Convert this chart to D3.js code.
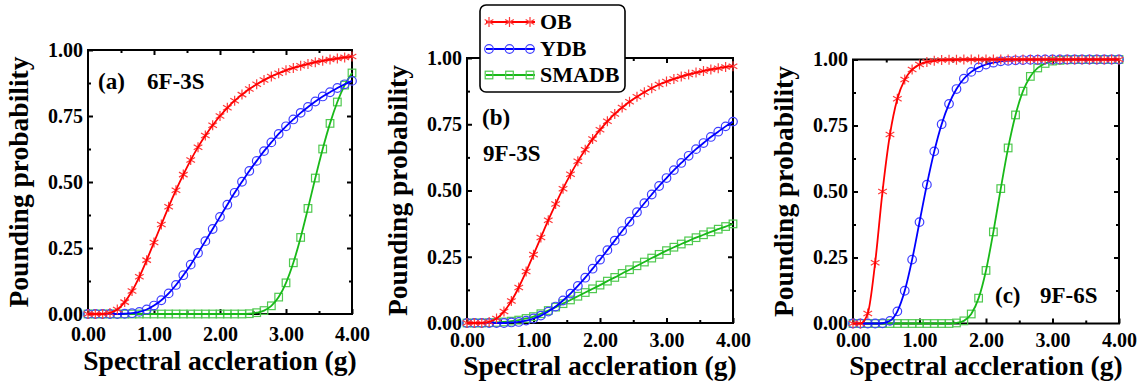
<!DOCTYPE html>
<html><head><meta charset="utf-8">
<script src="https://cdn.jsdelivr.net/npm/d3@7"></script>
<style>
body{margin:0;background:#fff}
svg{display:block}
text{font-family:"Liberation Serif","Times New Roman",serif;font-weight:bold;fill:#000}
</style></head><body>
<svg id="chart" width="1143" height="387"></svg>
<script>
// ---------- data ----------
const accel = [0,0.111,0.222,0.333,0.444,0.556,0.667,0.778,0.889,1.0,1.111,1.222,1.333,1.444,1.556,1.667,1.778,1.889,2.0,2.111,2.222,2.333,2.444,2.556,2.667,2.778,2.889,3.0,3.111,3.222,3.333,3.444,3.556,3.667,3.778,3.889,4.0];
const seriesNames = ["OB","YDB","SMADB"];
const panelTags = ["(a)","(b)","(c)"];
const panelCases = ["6F-3S","9F-3S","9F-6S"];
const xTickValues = [0,1,2,3,4];
const xTickLabels = ["0.00","1.00","2.00","3.00","4.00"];
const yTickValues = [0,0.25,0.5,0.75,1];
const yTickLabels = ["0.00","0.25","0.50","0.75","1.00"];
const xMinor = [0.5,1.5,2.5,3.5];
const yMinor = [0.125,0.375,0.625,0.875];
const xTitle = "Spectral accleration (g)";
const yTitle = "Pounding probability";

// (a) 6F-3S
const obA    = [0,0,0,0.004,0.017,0.045,0.087,0.141,0.204,0.271,0.339,0.406,0.469,0.528,0.583,0.632,0.676,0.715,0.750,0.781,0.808,0.831,0.852,0.870,0.886,0.900,0.912,0.923,0.932,0.940,0.947,0.954,0.959,0.964,0.968,0.972,0.975];
const ydbA   = [0,0,0,0,0,0.001,0.003,0.008,0.017,0.032,0.052,0.078,0.110,0.147,0.187,0.231,0.276,0.322,0.368,0.414,0.459,0.501,0.542,0.580,0.617,0.650,0.682,0.711,0.737,0.762,0.784,0.805,0.824,0.840,0.856,0.870,0.883];
const smadbA = [0,0,0,0,0,0,0,0,0,0,0,0,0,0,0,0,0,0,0,0,0,0,0.001,0.005,0.013,0.031,0.064,0.118,0.194,0.290,0.400,0.515,0.625,0.722,0.803,0.867,0.913];
// (b) 9F-3S
const obB    = [0,0,0,0.004,0.017,0.043,0.083,0.134,0.194,0.258,0.323,0.388,0.449,0.507,0.561,0.610,0.654,0.694,0.729,0.761,0.789,0.813,0.835,0.854,0.871,0.886,0.900,0.911,0.921,0.930,0.938,0.945,0.951,0.957,0.961,0.966,0.969];
const ydbB   = [0,0,0,0,0,0,0.002,0.004,0.009,0.017,0.028,0.043,0.062,0.085,0.111,0.140,0.171,0.205,0.239,0.275,0.311,0.347,0.382,0.418,0.452,0.485,0.517,0.547,0.577,0.604,0.631,0.656,0.679,0.702,0.722,0.742,0.760];
const smadbB = [0,0,0,0.001,0.002,0.004,0.007,0.011,0.017,0.024,0.035,0.047,0.060,0.073,0.087,0.101,0.115,0.129,0.143,0.158,0.172,0.187,0.201,0.216,0.230,0.245,0.259,0.273,0.286,0.298,0.310,0.322,0.333,0.344,0.354,0.364,0.374];
// (c) 9F-6S
const obC    = [0,0,0.038,0.230,0.500,0.716,0.851,0.924,0.962,0.981,0.991,0.995,0.998,0.999,0.999,1,1,1,1,1,1,1,1,1,1,1,1,1,1,1,1,1,1,1,1,1,1];
const ydbC   = [0,0,0,0,0.001,0.010,0.046,0.124,0.242,0.384,0.526,0.652,0.755,0.832,0.888,0.927,0.953,0.970,0.981,0.988,0.993,0.995,0.997,0.998,0.999,0.999,1,1,1,1,1,1,1,1,1,1,1];
const smadbC = [0,0,0,0,0,0,0,0,0,0,0,0,0,0,0.002,0.010,0.036,0.096,0.201,0.347,0.511,0.665,0.790,0.880,0.936,0.968,0.985,0.994,0.997,0.999,1,1,1,1,1,1,1];

// ---------- layout / style ----------
const panels = [
  {l:88, r:352, t:50, b:314, xPad:13, titleY:370, series:[obA,ydbA,smadbA], tag:{x:98,y:89}, cas:{x:147,y:89}},
  {l:467,r:733, t:58, b:323, xPad:10, titleY:375, series:[obB,ydbB,smadbB], tag:{x:482,y:125}, cas:{x:483,y:161}},
  {l:853,r:1119,t:59.5,b:323.5, xPad:9.5, titleY:375, series:[obC,ydbC,smadbC], tag:{x:995,y:303}, cas:{x:1040,y:303}}
];
const lineCol = ["#ff0000","#0000ff","#19b919"];
const markCol = ["#ff3a3a","#4040ff","#4fc94f"];

const svg = d3.select("#chart");
svg.append("rect").attr("width",1143).attr("height",387).attr("fill","#fff");

function drawMarker(g, kind, cx, cy){
  if(kind===0){
    const s=5, c=Math.cos(Math.PI/6)*s, sn=Math.sin(Math.PI/6)*s;
    g.append("path")
      .attr("d",`M${cx},${cy-s}L${cx},${cy+s}M${cx-c},${cy-sn}L${cx+c},${cy+sn}M${cx-c},${cy+sn}L${cx+c},${cy-sn}`)
      .attr("stroke",markCol[0]).attr("stroke-width",1.2).attr("fill","none");
  } else if(kind===1){
    g.append("circle").attr("cx",cx).attr("cy",cy).attr("r",4.3)
      .attr("stroke",markCol[1]).attr("stroke-width",1.2).attr("fill","none");
  } else {
    g.append("rect").attr("x",cx-3.8).attr("y",cy-3.8).attr("width",7.6).attr("height",7.6)
      .attr("stroke",markCol[2]).attr("stroke-width",1.2).attr("fill","none");
  }
}

panels.forEach((p,pi)=>{
  const g = svg.append("g");
  const x = d3.scaleLinear().domain([0,4]).range([p.l,p.r]);
  const y = d3.scaleLinear().domain([0,1]).range([p.b,p.t]);

  // frame
  g.append("rect").attr("x",p.l).attr("y",p.t).attr("width",p.r-p.l).attr("height",p.b-p.t)
    .attr("fill","none").attr("stroke","#000").attr("stroke-width",2);

  const styleAxis = (sel)=>{
    sel.select(".domain").remove();
    sel.selectAll(".tick line").attr("stroke","#000").attr("stroke-width",2);
    sel.selectAll(".tick text").style("font-size","20px").attr("fill","#000");
  };
  // major axes with labels
  g.append("g").attr("transform",`translate(0,${p.b})`)
    .call(d3.axisBottom(x).tickValues(xTickValues).tickSize(-5).tickPadding(p.xPad)
      .tickFormat((d,i)=>xTickLabels[i])).call(styleAxis);
  g.append("g").attr("transform",`translate(${p.l},0)`)
    .call(d3.axisLeft(y).tickValues(yTickValues).tickSize(-5).tickPadding(5)
      .tickFormat((d,i)=>yTickLabels[i])).call(styleAxis);
  // opposite axes (ticks only)
  g.append("g").attr("transform",`translate(0,${p.t})`)
    .call(d3.axisTop(x).tickValues(xTickValues.slice(1,-1)).tickSize(-5).tickFormat("")).call(styleAxis);
  g.append("g").attr("transform",`translate(${p.r},0)`)
    .call(d3.axisRight(y).tickValues(yTickValues.slice(1,-1)).tickSize(-5).tickFormat("")).call(styleAxis);
  // minor ticks
  g.append("g").attr("transform",`translate(0,${p.b})`).call(d3.axisBottom(x).tickValues(xMinor).tickSize(-3).tickFormat("")).call(styleAxis);
  g.append("g").attr("transform",`translate(0,${p.t})`).call(d3.axisTop(x).tickValues(xMinor).tickSize(-3).tickFormat("")).call(styleAxis);
  g.append("g").attr("transform",`translate(${p.l},0)`).call(d3.axisLeft(y).tickValues(yMinor).tickSize(-3).tickFormat("")).call(styleAxis);
  g.append("g").attr("transform",`translate(${p.r},0)`).call(d3.axisRight(y).tickValues(yMinor).tickSize(-3).tickFormat("")).call(styleAxis);

  // titles
  g.append("text").attr("x",(p.l+p.r)/2).attr("y",p.titleY).attr("text-anchor","middle")
    .style("font-size","27.5px").text(xTitle);
  g.append("text").attr("transform",`translate(${p.l-60},${(p.t+p.b)/2}) rotate(-90)`)
    .attr("text-anchor","middle").style("font-size","27.5px").text(yTitle);

  // panel annotations
  g.append("text").attr("x",p.tag.x).attr("y",p.tag.y).style("font-size","23px").text(panelTags[pi]);
  g.append("text").attr("x",p.cas.x).attr("y",p.cas.y).style("font-size","23px").text(panelCases[pi]);

  // series (drawn SMADB, YDB, OB so OB on top)
  const line = d3.line().x((d,i)=>x(accel[i])).y(d=>y(d)).curve(d3.curveMonotoneX);
  [2,1,0].forEach(si=>{
    const vals = p.series[si];
    const sg = g.append("g");
    vals.forEach((v,i)=>drawMarker(sg, si, x(accel[i]), y(v)));
    sg.append("path").datum(vals).attr("d",line).attr("fill","none")
      .attr("stroke",lineCol[si]).attr("stroke-width",1.8);
  });
});

// legend
const lg = svg.append("g");
lg.append("rect").attr("x",480).attr("y",5).attr("width",145).attr("height",87).attr("rx",6)
  .attr("fill","#fff").attr("stroke","#000").attr("stroke-width",1.6);
const legY = [22,49,75];
const legX = d3.scaleLinear().domain([0,2]).range([489,530]);
seriesNames.forEach((n,si)=>{
  lg.append("line").attr("x1",486).attr("x2",535).attr("y1",legY[si]).attr("y2",legY[si])
    .attr("stroke",lineCol[si]).attr("stroke-width",1.8);
  [0,1,2].forEach(k=>drawMarker(lg, si, legX(k), legY[si]));
  lg.append("text").attr("x",540).attr("y",legY[si]+6.7).style("font-size","22px").text(n);
});
</script>
</body></html>
